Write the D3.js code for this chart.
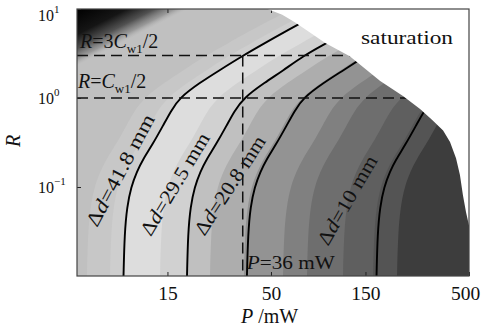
<!DOCTYPE html>
<html><head><meta charset="utf-8">
<script src="https://cdn.jsdelivr.net/npm/d3@7/dist/d3.min.js"></script>
<style>body{margin:0;background:#fff}svg{display:block}
text{font-family:"Liberation Serif","DejaVu Serif","Times New Roman",serif}</style>
</head><body>
<svg id="chart" width="481" height="334"></svg>
<script>
// ---------- data ----------
const xTicks = [15, 50, 150, 500];
const yTicks = [0.1, 1, 10];
const yTickExp = ["\u22121", "0", "1"];

// contour Δd = 41.8 mm
const c418R = [0.01, 0.03, 0.06, 0.1, 0.15, 0.2, 0.3, 0.5, 0.7, 1, 1.5, 2, 3, 4, 6, 7.5];
const c418P = [9.0, 9.11, 9.38, 9.82, 10.53, 11.22, 12.61, 14.33, 15.55, 17.2, 22.0, 27.0, 36.2, 45.3, 62.7, 75.2];
// contour Δd = 29.5 mm
const c295R = [0.01, 0.03, 0.06, 0.1, 0.15, 0.2, 0.3, 0.5, 0.7, 1, 1.5, 2, 3, 4, 4.6];
const c295P = [18.83, 19.05, 19.61, 20.55, 22.03, 23.49, 26.38, 30.0, 32.5, 36.3, 46.7, 56.9, 73.4, 92.7, 104];
// contour Δd = 20.8 mm
const c208R = [0.01, 0.03, 0.06, 0.1, 0.15, 0.2, 0.3, 0.5, 0.7, 1, 1.5, 2, 3];
const c208P = [37.8, 38.3, 39.4, 41.3, 44.3, 47.2, 53.0, 60.3, 65.4, 72.5, 93.0, 114.2, 151];
// contour Δd = 10 mm
const c10R = [0.01, 0.03, 0.06, 0.1, 0.15, 0.2, 0.3, 0.5, 0.7, 1];
const c10P = [170.6, 172.6, 177.7, 186.1, 199.6, 212.8, 239, 271.6, 294.6, 329];

const contourLabels = ["41.8", "29.5", "20.8", "10"];

// grey bands of the map: P where each band starts (at small R), and band greys
const bandStartP = [5.88, 7.69, 9.0, 13.76, 18.83, 24.6, 36.5, 57.5, 76, 115.5, 163.8, 216.5];
const bandGrey = ["#c0c0c0", "#c7c7c7", "#cecece", "#dddddd", "#d1d1d1", "#c0c0c0", "#adadad",
                  "#939393", "#808080", "#6e6e6e", "#5f5f5f", "#545454", "#3d3d3d"];
// how far band borders bend towards larger P as R grows (ratio to small-R value)
const bendR = [0.01, 0.03, 0.06, 0.1, 0.15, 0.2, 0.3, 0.5, 0.7, 1, 1.5, 2, 3, 4, 6, 10];
const bendF = [1, 1.012, 1.042, 1.091, 1.170, 1.247, 1.401, 1.592, 1.727, 1.940, 2.475, 3.023, 3.986, 5.040, 6.973, 10.85];

// saturation border
const satP = [48, 57, 66, 79, 94, 125, 178, 232, 283, 325, 370, 401, 430, 450, 466, 483, 500];
const satR = [10, 8.6, 7.1, 5.4, 4.15, 2.95, 1.55, 1.05, 0.75, 0.57, 0.43, 0.32, 0.21, 0.136, 0.081, 0.052, 0.037];

const Cw1half = 1;       // R = Cw1/2
const Cw1threeHalf = 3;  // R = 3Cw1/2
const P36 = 36;

// ---------- drawing ----------
const L = 77, R_ = 469, T = 9, B = 276;
const svg = d3.select("#chart");
const x = d3.scaleLog().domain([5.24, 500]).range([L, R_]);
const y = d3.scaleLog().domain([0.01, 10]).range([B, T]);

const defs = svg.append("defs");
defs.append("clipPath").attr("id", "clip").append("rect")
  .attr("x", L).attr("y", T).attr("width", R_ - L).attr("height", B - T);
const g1 = defs.append("linearGradient").attr("id", "dark")
  .attr("gradientUnits", "userSpaceOnUse")
  .attr("x1", L).attr("y1", T).attr("x2", L + 23).attr("y2", T + 45);
[[0, "#000", 1], [0.45, "#151515", 1], [0.7, "#444", 0.9], [0.88, "#777", 0.55], [1, "#aaa", 0]]
  .forEach(s => g1.append("stop").attr("offset", s[0]).attr("stop-color", s[1]).attr("stop-opacity", s[2]));

const plot = svg.append("g").attr("clip-path", "url(#clip)");
plot.append("rect").attr("x", L).attr("y", T).attr("width", R_ - L).attr("height", B - T).attr("fill", bandGrey[0]);

const lineSm = d3.line().x(d => x(d[0])).y(d => y(d[1])).curve(d3.curveBasis);
const lineLin = d3.line().x(d => x(d[0])).y(d => y(d[1]));

bandStartP.forEach((p0, i) => {
  const pts = bendR.map((r, k) => [p0 * bendF[k], r]);
  const d = lineSm(pts) + `L${R_ + 50},${T - 5}L${R_ + 50},${B + 5}L${x(pts[0][0])},${B + 5}Z`;
  plot.append("path").attr("d", d).attr("fill", bandGrey[i + 1]);
});

plot.append("rect").attr("x", L).attr("y", T).attr("width", 180).attr("height", 110).attr("fill", "url(#dark)");

// contours
const contours = [[c418P, c418R], [c295P, c295R], [c208P, c208R], [c10P, c10R]];
contours.forEach(([P, R]) => {
  plot.append("path").attr("d", lineSm(P.map((p, i) => [p, R[i]])))
    .attr("fill", "none").attr("stroke", "#000").attr("stroke-width", 1.9);
});

// dashed guides
const dash = "11,6";
[[[5.24, Cw1threeHalf], [500, Cw1threeHalf]], [[5.24, Cw1half], [500, Cw1half]], [[P36, Cw1threeHalf], [P36, 0.01]]]
  .forEach(seg => plot.append("path").attr("d", lineLin(seg)).attr("fill", "none")
    .attr("stroke", "#111").attr("stroke-width", 1.5).attr("stroke-dasharray", dash));

// axes (ticks inward)
const ax = svg.append("g").attr("transform", `translate(0,${B})`)
  .call(d3.axisBottom(x).tickValues(xTicks).tickSizeInner(-4).tickSizeOuter(0).tickPadding(10).tickFormat(d3.format("d")));
const axT = svg.append("g").attr("transform", `translate(0,${T})`)
  .call(d3.axisTop(x).tickValues(xTicks).tickSizeInner(-4).tickSizeOuter(0).tickFormat(""));
const ay = svg.append("g").attr("transform", `translate(${L},0)`)
  .call(d3.axisLeft(y).tickValues(yTicks).tickSizeInner(-4).tickSizeOuter(0).tickFormat(""));
const ayR = svg.append("g").attr("transform", `translate(${R_},0)`)
  .call(d3.axisRight(y).tickValues(yTicks).tickSizeInner(-4).tickSizeOuter(0).tickFormat(""));
[ax, axT, ay, ayR].forEach(a => { a.select(".domain").remove(); a.selectAll("line").attr("stroke", "#222").attr("stroke-width", 1); });
ax.attr("font-family", null).attr("font-size", null);
ax.selectAll("text").style("font-size", "19.5px").attr("fill", "#111")
  .attr("dx", d => d === 500 ? -4 : 0);

// saturation (white)
const satPts = satP.map((p, i) => [p, satR[i]]);
svg.append("path").attr("d", lineLin(satPts) + `L${R_ + 1},${y(satR[satR.length - 1])}L${R_ + 1},${T - 1}L${x(satP[0])},${T - 1}Z`)
  .attr("fill", "#fff");

// frame
svg.append("rect").attr("x", L).attr("y", T).attr("width", R_ - L).attr("height", B - T)
  .attr("fill", "none").attr("stroke", "#444").attr("stroke-width", 1.2);

// y tick labels 10^n
yTicks.forEach((v, i) => {
  const t = svg.append("text").attr("x", 38).attr("y", Math.max(y(v) + 6, 20.5))
    .style("font-size", "16px").attr("fill", "#111");
  t.append("tspan").text("10");
  t.append("tspan").style("font-size", "11px").attr("dy", -8).text(yTickExp[i]);
});

// axis titles
svg.append("text").attr("transform", "translate(13,141) rotate(-90)").attr("text-anchor", "middle")
  .attr("dominant-baseline", "central").attr("font-style", "italic")
  .style("font-size", "20px").attr("fill", "#111").text("R");
const xl = svg.append("text").attr("x", 241).attr("y", 323).style("font-size", "20px").attr("fill", "#111");
xl.append("tspan").attr("font-style", "italic").text("P");
xl.append("tspan").text(" /mW");

// guide labels
function cwLabel(xp, yp, pre) {
  const t = svg.append("text").attr("x", xp).attr("y", yp).style("font-size", "20px").attr("fill", "#111");
  t.append("tspan").attr("font-style", "italic").text("R");
  t.append("tspan").text("=" + pre);
  t.append("tspan").attr("font-style", "italic").text("C");
  t.append("tspan").style("font-size", "13px").attr("dy", 5).text("w1");
  t.append("tspan").attr("dy", -5).text("/2");
}
cwLabel(80, 48, "3");
cwLabel(78, 88, "");

const pl = svg.append("text").attr("x", x(P36) + 4).attr("y", 269)
  .style("font-size", "19px").attr("fill", "#111").attr("textLength", 88).attr("lengthAdjust", "spacingAndGlyphs");
pl.append("tspan").attr("font-style", "italic").text("P");
pl.append("tspan").text("=36 mW");

svg.append("text").attr("x", 361).attr("y", 44).style("font-size", "19px")
  .attr("fill", "#111").attr("textLength", 92).attr("lengthAdjust", "spacingAndGlyphs").text("saturation");

// contour labels (centre in data units, angle, length)
const labelPos = [[8.64, 0.155, -62, 124], [16.3, 0.108, -59, 116], [30.9, 0.105, -57, 114], [121, 0.0715, -59.8, 100]];
contourLabels.forEach((lab, i) => {
  const [pp, rr, ang, len] = labelPos[i];
  const t = svg.append("text").attr("transform", `translate(${x(pp)},${y(rr)}) rotate(${ang})`)
    .attr("text-anchor", "middle").attr("dominant-baseline", "central")
    .style("font-size", "20px").attr("fill", "#111")
    .attr("textLength", len).attr("lengthAdjust", "spacingAndGlyphs");
  t.append("tspan").text("\u0394");
  t.append("tspan").attr("font-style", "italic").text("d");
  t.append("tspan").text("=" + lab + " mm");
});
</script>
</body></html>
